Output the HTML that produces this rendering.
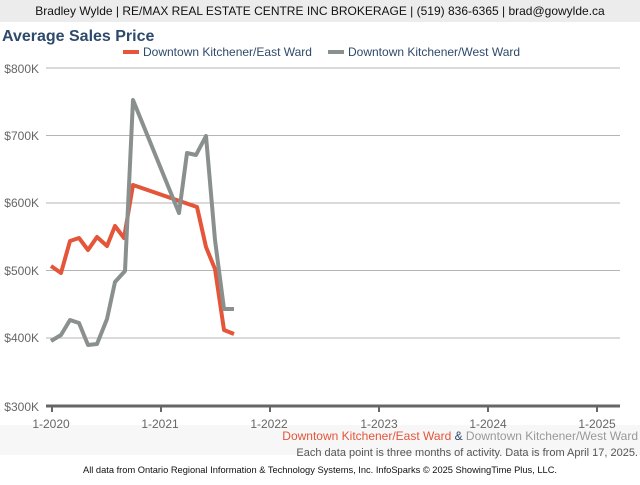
<!DOCTYPE html>
<html><head><meta charset="utf-8"><style>
body{margin:0;width:640px;height:480px;overflow:hidden;background:#fff;font-family:"Liberation Sans",sans-serif;}
</style></head><body>
<svg width="640" height="480" xmlns="http://www.w3.org/2000/svg" font-family="Liberation Sans, sans-serif">
<rect x="0" y="0" width="640" height="22" fill="#ececec"/>
<rect x="0" y="425" width="640" height="30" fill="#f7f7f7"/>
<text x="320" y="15" font-size="12" text-anchor="middle" fill="#111">Bradley Wylde | RE/MAX REAL ESTATE CENTRE INC BROKERAGE | (519) 836-6365 | brad@gowylde.ca</text>
<text x="2" y="41" font-size="16" font-weight="bold" fill="#2e4a6b">Average Sales Price</text>
<rect x="123" y="50" width="16" height="4" fill="#e4553a"/>
<text x="143" y="56" font-size="12" fill="#2e4a6b">Downtown Kitchener/East Ward</text>
<rect x="328" y="50" width="16" height="4" fill="#8a908e"/>
<text x="348" y="56" font-size="12" fill="#2e4a6b">Downtown Kitchener/West Ward</text>
<g stroke="#b5b5b5" stroke-width="1">
<line x1="46" y1="68" x2="620" y2="68"/><line x1="46" y1="135.5" x2="620" y2="135.5"/>
<line x1="46" y1="203" x2="620" y2="203"/><line x1="46" y1="270.5" x2="620" y2="270.5"/>
<line x1="46" y1="338" x2="620" y2="338"/>
</g>
<line x1="46" y1="406" x2="620" y2="406" stroke="#666" stroke-width="3"/>
<g stroke="#666" stroke-width="2">
<line x1="52" y1="406" x2="52" y2="412"/><line x1="161" y1="406" x2="161" y2="412"/>
<line x1="270" y1="406" x2="270" y2="412"/><line x1="379" y1="406" x2="379" y2="412"/>
<line x1="488" y1="406" x2="488" y2="412"/><line x1="597" y1="406" x2="597" y2="412"/>
</g>
<g font-size="12" fill="#666" text-anchor="end">
<text x="39" y="73">$800K</text><text x="39" y="140">$700K</text><text x="39" y="207">$600K</text>
<text x="39" y="275">$500K</text><text x="39" y="342">$400K</text><text x="39" y="411">$300K</text>
</g>
<g font-size="12" fill="#666" text-anchor="middle">
<text x="51" y="428">1-2020</text><text x="160" y="428">1-2021</text><text x="269" y="428">1-2022</text>
<text x="379" y="428">1-2023</text><text x="488" y="428">1-2024</text><text x="597" y="428">1-2025</text>
</g>
<polyline fill="none" stroke="#e4553a" stroke-width="4" stroke-linejoin="round" points="51,266 61,273 70,241 79,238 88,250 97,237 107,246 115,226 124,238 133,185 197,207 206,247 215,269 224,330 234,334"/>
<polyline fill="none" stroke="#8a908e" stroke-width="4" stroke-linejoin="round" points="51,341 61,335 70,320 79,323 88,345 97,344 107,319 115,282 125,271 133,100 179,213 187,153 196,155 206,136 215,240 224,309 234,309"/>
<text x="638" y="440" font-size="12" text-anchor="end"><tspan fill="#e4553a">Downtown Kitchener/East Ward</tspan><tspan fill="#2e4a6b"> &amp; </tspan><tspan fill="#999">Downtown Kitchener/West Ward</tspan></text>
<text x="638" y="456" font-size="11" text-anchor="end" fill="#555">Each data point is three months of activity. Data is from April 17, 2025.</text>
<text x="320" y="473" font-size="9.3" text-anchor="middle" fill="#111">All data from Ontario Regional Information &amp; Technology Systems, Inc. InfoSparks © 2025 ShowingTime Plus, LLC.</text>
</svg>
</body></html>
